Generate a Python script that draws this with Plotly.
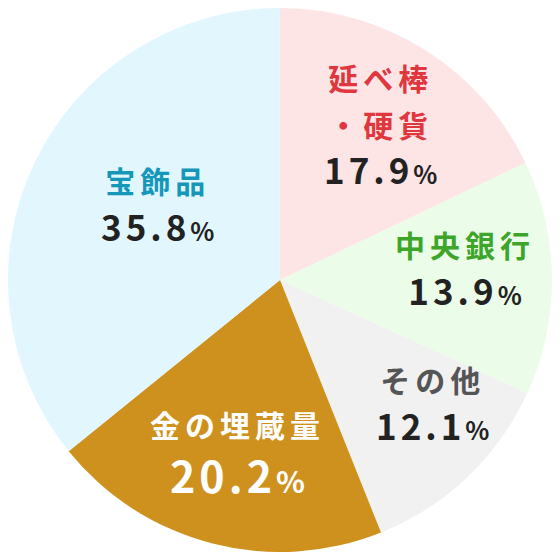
import plotly.graph_objects as go

# 金の保有内訳（%）
categorias = ["延べ棒・硬貨", "中央銀行", "その他", "金の埋蔵量", "宝飾品"]
rotulos = ["延べ棒<br>・硬貨", "中央銀行", "その他", "金の埋蔵量", "宝飾品"]
valores = [17.9, 13.9, 12.1, 20.2, 35.8]

cores_fatia = ["#fde4e5", "#ebfde8", "#f1f1f1", "#cf911e", "#e2f6fd"]
cores_rotulo = ["#e0363d", "#3ca52a", "#555555", "#ffffff", "#1597ba"]
cores_numero = ["#222222", "#222222", "#222222", "#ffffff", "#222222"]
# centro dos textos na tela (px)
pos_x = [380, 465, 432, 237, 157]
pos_y = [124, 268, 403, 453, 204]
tam_numero = [35, 35, 35, 43, 35]
tam_base = [36, 37, 37, 43, 37]

LADO = 544  # a página tem 8px de margem
fig = go.Figure()
fig.add_trace(go.Pie(
    labels=categorias,
    values=valores,
    sort=False,
    direction="clockwise",
    rotation=0,
    marker=dict(colors=cores_fatia, line=dict(width=0)),
    textinfo="none",
    hoverinfo="label+percent",
    showlegend=False,
    domain=dict(x=[0, 1], y=[0, 1])
))

for i, v in enumerate(valores):
    texto = (
        f"<span style='color:{cores_rotulo[i]};font-size:30px;letter-spacing:5px'>{rotulos[i]}</span><br>"
        f"<span style='color:{cores_numero[i]};font-size:{tam_numero[i]}px;letter-spacing:4px'>{v:.1f}</span>"
        f"<span style='color:{cores_numero[i]};font-size:{int(tam_numero[i]*0.72)}px'>%</span>"
    )
    fig.add_annotation(
        x=(pos_x[i] - 8) / LADO, y=1 - (pos_y[i] - 8) / LADO,
        xref="paper", yref="paper",
        xanchor="center", yanchor="middle",
        text=texto,
        showarrow=False,
        align="center",
        font=dict(family="Noto Sans CJK JP", size=tam_base[i], weight="bold")
    )

fig.update_layout(
    width=LADO, height=LADO,
    margin=dict(l=0, r=0, t=0, b=0),
    paper_bgcolor="#ffffff",
    font=dict(family="Noto Sans CJK JP")
)

fig.write_html("out.html")
